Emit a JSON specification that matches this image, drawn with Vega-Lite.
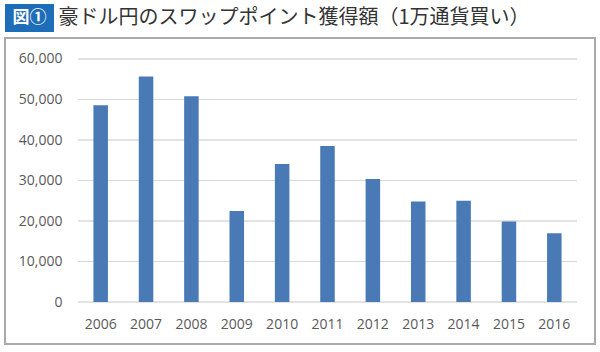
{
  "$schema": "https://vega.github.io/schema/vega-lite/v6.json",
  "background": "white",
  "padding": {"left": 4, "top": 4, "right": 5, "bottom": 5},
  "spacing": 5,
  "vconcat": [
    {
      "spacing": 4,
      "hconcat": [
        {
          "width": 49,
          "height": 28,
          "view": {"fill": "#1d6db8", "stroke": null},
          "data": {"values": [{"label": "図①"}]},
          "mark": {"type": "text", "color": "white", "font": "Noto Sans CJK JP", "fontSize": 17, "fontWeight": "bold", "baseline": "middle", "align": "center"},
          "encoding": {"text": {"field": "label", "type": "nominal"}}
        },
        {
          "width": 1,
          "height": 28,
          "view": {"stroke": null},
          "data": {"values": [{"label": "豪ドル円のスワップポイント獲得額（1万通貨買い）"}]},
          "mark": {"type": "text", "color": "#333333", "font": "Noto Sans CJK JP", "fontSize": 20, "fontWeight": "normal", "baseline": "middle", "align": "left"},
          "encoding": {"text": {"field": "label", "type": "nominal"}}
        }
      ]
    },
    {
      "width": 590,
      "height": 306,
      "view": {"stroke": "#aaaaaa", "strokeWidth": 2, "fill": "white"},
      "layer": [
        {
          "data": {"values": [{"v": 0}, {"v": 10000}, {"v": 20000}, {"v": 30000}, {"v": 40000}, {"v": 50000}, {"v": 60000}]},
          "mark": {"type": "rect", "stroke": "#d9d9d9", "strokeWidth": 1, "fill": "#d9d9d9"},
          "encoding": {
            "x": {"datum": "all", "type": "nominal", "scale": {"range": [73, 572], "paddingInner": 0, "paddingOuter": 0}, "axis": null},
            "y": {"field": "v", "type": "quantitative", "scale": {"domain": [-10370, 65185], "nice": false, "zero": false},
                  "axis": {"values": [0, 10000, 20000, 30000, 40000, 50000, 60000], "format": ",d", "offset": -57, "ticks": false, "tickSize": 0, "domain": false, "grid": false, "labelPadding": 0, "title": null, "labelFont": "Open Sans", "labelFontSize": 14, "labelColor": "#595959"}},
            "y2": {"field": "v"}
          }
        },
        {
          "data": {"values": [
            {"year": "2006", "value": 48600},
            {"year": "2007", "value": 55700},
            {"year": "2008", "value": 50800},
            {"year": "2009", "value": 22500},
            {"year": "2010", "value": 34100},
            {"year": "2011", "value": 38500},
            {"year": "2012", "value": 30400},
            {"year": "2013", "value": 24800},
            {"year": "2014", "value": 25000},
            {"year": "2015", "value": 19900},
            {"year": "2016", "value": 17000}
          ]},
          "mark": {"type": "bar", "color": "#4a7ab5"},
          "encoding": {
            "x": {"field": "year", "type": "ordinal", "scale": {"range": [73, 572], "paddingInner": 0.68, "paddingOuter": 0.34},
                  "axis": {"offset": -42, "ticks": false, "tickSize": 0, "domain": false, "labelPadding": 15, "labelAngle": 0, "title": null, "labelFont": "Open Sans", "labelFontSize": 14, "labelColor": "#595959"}},
            "y": {"field": "value", "type": "quantitative", "scale": {"domain": [-10370, 65185], "nice": false, "zero": false},
                  "axis": {"values": [0, 10000, 20000, 30000, 40000, 50000, 60000], "format": ",d", "offset": -57, "ticks": false, "tickSize": 0, "domain": false, "grid": false, "labelPadding": 0, "title": null, "labelFont": "Open Sans", "labelFontSize": 14, "labelColor": "#595959"}},
            "y2": {"datum": 0}
          }
        }
      ],
      "resolve": {"scale": {"x": "independent"}, "axis": {"x": "independent"}}
    }
  ]
}
